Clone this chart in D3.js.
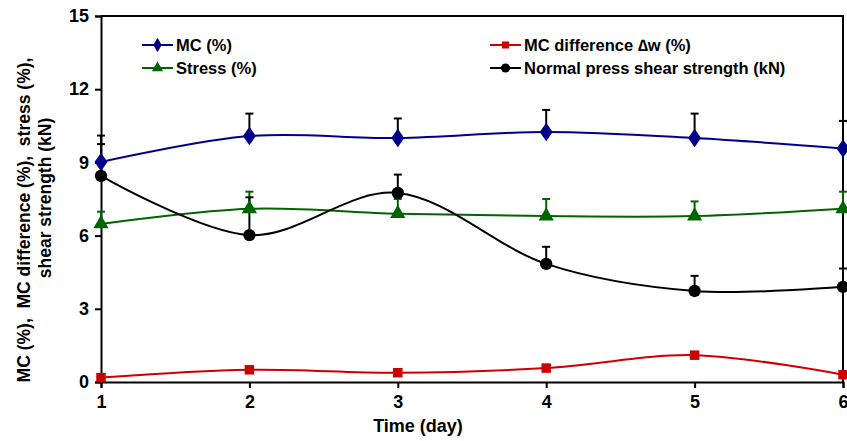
<!DOCTYPE html>
<meta charset="utf-8">
<style>
body { margin: 0; background: #fff; }
svg text { font-family: "Liberation Sans", Arial, sans-serif; font-weight: bold; }
.narrow { font-family: "Liberation Sans Narrow", "Liberation Sans", Arial, sans-serif; }
</style>
<svg width="847" height="441"></svg>
<script src="https://d3js.org/d3.v7.min.js"></script>
<script>

var days = [1, 2, 3, 4, 5, 6];
var yTicks = [0, 3, 6, 9, 12, 15];

var mc       = [9.02, 10.08, 10.0, 10.25, 10.0, 9.57];
var mcErr    = [1.08, 0.92, 0.8, 0.9, 1.0, 1.13];
var mcDiff   = [0.18, 0.5, 0.38, 0.57, 1.1, 0.3];
var stress   = [6.48, 7.1, 6.9, 6.8, 6.8, 7.1];
var stressErr= [0.5, 0.7, 0.6, 0.7, 0.6, 0.7];
var shear    = [8.45, 6.02, 7.75, 4.84, 3.73, 3.9];
var shearErr = [1.3, 1.55, 0.75, 0.7, 0.62, 0.75];

var svg = d3.select("svg");
var margin = {left: 101, right: 4, top: 16, bottom: 59};
var width = 847 - margin.left - margin.right,
    height = 441 - margin.top - margin.bottom;

var x = d3.scaleLinear().domain([1, 6]).range([margin.left, margin.left + width]);
var y = d3.scaleLinear().domain([0, 15]).range([margin.top + height, margin.top]);

var series = [
  {name: "MC (%)", values: mc, err: mcErr, color: "#00008b", errColor: "#000", symbol: d3.symbolDiamond, size: 110},
  {name: "Stress (%)", values: stress, err: stressErr, color: "#006400", errColor: "#006400", symbol: d3.symbolTriangle, size: 100},
  {name: "Normal press shear strength (kN)", values: shear, err: shearErr, color: "#000", errColor: "#000", symbol: d3.symbolCircle, size: 120},
  {name: "MC difference \u2206w (%)", values: mcDiff, err: null, color: "#cc0000", errColor: "#cc0000", symbol: d3.symbolSquare, size: 90}
];

// frame
svg.append("path")
  .attr("d", "M" + x(1) + "," + y(15) + "H" + x(6) + "V" + y(0))
  .attr("fill", "none").attr("stroke", "#000").attr("stroke-width", 2);

// axes
var yAxis = svg.append("g")
  .attr("transform", "translate(" + x(1) + ",0)")
  .call(d3.axisLeft(y).tickValues(yTicks).tickSize(6).tickPadding(6));
yAxis.selectAll("text").attr("font-size", 18).attr("font-family", null);
var xAxis = svg.append("g")
  .attr("transform", "translate(0," + y(0) + ")")
  .call(d3.axisBottom(x).tickValues(days).tickFormat(d3.format("d")).tickSize(6).tickPadding(7));
xAxis.selectAll("text").attr("font-size", 18).attr("font-family", null).attr("class", "narrow");
svg.selectAll(".domain, .tick line").attr("stroke", "#000").attr("stroke-width", 2);

var line = d3.line().curve(d3.curveCatmullRom.alpha(0))
  .x(function(d, i) { return x(days[i]); })
  .y(function(d) { return y(d); });

// error bars (upper only)
series.forEach(function(s) {
  if (!s.err) return;
  var g = svg.append("g");
  s.values.forEach(function(v, i) {
    var cx = x(days[i]), top = y(v + s.err[i]);
    g.append("line").attr("x1", cx).attr("x2", cx).attr("y1", y(v)).attr("y2", top)
      .attr("stroke", s.errColor).attr("stroke-width", 2);
    g.append("line").attr("x1", cx - 4).attr("x2", cx + 4).attr("y1", top).attr("y2", top)
      .attr("stroke", s.errColor).attr("stroke-width", 2);
  });
});

// lines + markers
series.forEach(function(s) {
  svg.append("path").attr("d", line(s.values))
    .attr("fill", "none").attr("stroke", s.color).attr("stroke-width", 2);
  svg.append("g").selectAll("path").data(s.values).enter().append("path")
    .attr("d", d3.symbol().type(s.symbol).size(s.size))
    .attr("transform", function(d, i) {
      var sc = s.symbol === d3.symbolDiamond ? " scale(1.15,0.95)" : "";
      return "translate(" + x(days[i]) + "," + y(d) + ")" + sc;
    })
    .attr("fill", s.color);
});

// legend
var legend = [
  {s: series[0], lx: 142, ly: 45},
  {s: series[1], lx: 142, ly: 68},
  {s: series[3], lx: 490, ly: 45},
  {s: series[2], lx: 490, ly: 68}
];
legend.forEach(function(l) {
  var g = svg.append("g");
  g.append("line").attr("x1", l.lx).attr("x2", l.lx + 31).attr("y1", l.ly).attr("y2", l.ly)
    .attr("stroke", l.s.color).attr("stroke-width", 2);
  g.append("path").attr("d", d3.symbol().type(l.s.symbol).size(l.s.size * 0.55))
    .attr("transform", "translate(" + (l.lx + 15.5) + "," + l.ly + ")")
    .attr("fill", l.s.color);
  g.append("text").attr("x", l.lx + 34).attr("y", l.ly + 6)
    .attr("font-size", 16.5).text(l.s.name);
});

// axis titles
svg.append("text").attr("class", "narrow")
  .attr("x", 418).attr("y", 432).attr("text-anchor", "middle")
  .attr("font-size", 18).text("Time (day)");

svg.append("text")
  .attr("transform", "translate(30,220) rotate(-90)").attr("text-anchor", "middle")
  .attr("font-size", 17.5).text("MC (%),\u00a0 MC difference (%),\u00a0 stress (%),");
svg.append("text")
  .attr("transform", "translate(51,198) rotate(-90)").attr("text-anchor", "middle")
  .attr("font-size", 17.5).text("shear strength (kN)");

</script>
